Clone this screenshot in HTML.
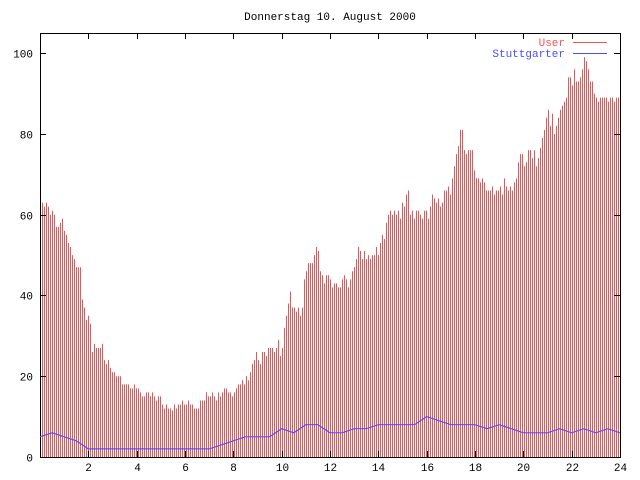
<!DOCTYPE html>
<html><head><meta charset="utf-8"><style>
html,body{margin:0;padding:0;background:#fff;}
svg{display:block;font-family:"Liberation Mono",monospace;font-size:11px;}
</style></head><body>
<svg id="chart" width="640" height="480">
<text x="330" y="20" text-anchor="middle">Donnerstag 10. August 2000</text>
<g id="bars"></g>
<g id="axes"></g>
<g>
<text x="565" y="46" text-anchor="end" fill="#ff4d4d">User</text>
<line x1="573" y1="42.5" x2="607" y2="42.5" stroke="#ff4d4d"/>
<text x="565" y="57" text-anchor="end" fill="#4d4dff">Stuttgarter</text>
<line x1="573" y1="53.5" x2="607" y2="53.5" stroke="#4d4dff"/>
</g>
</svg>
<script>
const userValues = [
64,63,62,63,62,60,61,60,57,57,58,59,56,55,53,52,50,49,47,47,
47,39,37,34,35,33,26,28,27,27,27,28,24,23,24,22,21,21,20,20,
20,18,18,18,18,17,17,18,17,17,16,15,15,16,16,15,16,15,14,15,
15,13,12,13,12,12,11.5,13,12,13,13,14,13,13,14,13,13,12,12,12,
14,14,14,16,15,15,16,15,14,16,15,16,17,17,16,
16,15,16,17,18,18,19,18,20,19,21,23,24,26,24,23,26,26,25,27,
27,27,26,27,29,25,27,32,35,38,41,37,37,36,37,35,37,44,46,48,
48,48,50,52,51,46,45,43,45,45,44,42,43,43,42,42,44,45,44,42,
44,46,47,49,52,51,49,51,49,50,49,50,50,52,50,53,55,54,58,60,
61,60,61,60,61,59,63,62,65,66,60,61,59,61,61,
60,59,61,61,59,62,65,64,63,64,62,63,66,66,67,65,69,72,75,77,
81,81,76,75,76,76,76,71,69,69,68,69,68,66,66,66,67,65,66,66,
67,65,69,67,66,67,66,68,69,73,75,75,72,73,76,76,74,76,72,74,
76.5,79,81,84,86,82,85,80,82,84,86,87,88,89,94,94,92,96,93,93,
94,96,99,98,96,93,93,90,89,88,89,89,89,89,88,89,89,88,89,89];
const stuttHours = [0,0.5,1,1.5,2,2.5,3,3.5,4,4.5,5,5.5,6,6.5,7,7.5,8,8.5,9,9.5,10,10.5,11,11.5,12,12.5,13,13.5,14,14.5,15,15.5,16,16.5,17,17.5,18,18.5,19,19.5,20,20.5,21,21.5,22,22.5,23,23.5,24];
const stuttValues = [5,6,5,4,2,2,2,2,2,2,2,2,2,2,2,3,4,5,5,5,7,6,8,8,6,6,7,7,8,8,8,8,10,9,8,8,8,7,8,7,6,6,6,7,6,7,6,7,6];
const xTicks = [2,4,6,8,10,12,14,16,18,20,22,24];
const yTicks = [0,20,40,60,80,100];

const X0=40,X1=620,Y0=457,Y1=33;
const BAR_STEP_HOURS=24/290;
const xs=h=>X0+(X1-X0)*h/24;
const ys=v=>Y0-(Y0-Y1)*v/105;
const NS="http://www.w3.org/2000/svg";
const svg=document.getElementById('chart');
const bars=document.getElementById('bars');
const axes=document.getElementById('axes');
function mk(t,a){const e=document.createElementNS(NS,t);for(const k in a)e.setAttribute(k,a[k]);return e;}

userValues.forEach((v,i)=>{
  const x=Math.round(xs(i*BAR_STEP_HOURS))+0.5;
  const l=mk('line',{x1:x,x2:x,y1:Y0,y2:ys(v),stroke:'#ff4d4d','stroke-width':1});
  
  
  bars.appendChild(l);
});
const pts=stuttHours.map((h,i)=>xs(h).toFixed(1)+','+ys(stuttValues[i]).toFixed(1)).join(' ');
const pl=mk('polyline',{points:pts,fill:'none',stroke:'#4d4dff','stroke-width':1.2});


svg.appendChild(pl);

const fr=mk('rect',{x:X0+0.5,y:Y1+0.5,width:X1-X0,height:Y0-Y1,fill:'none',stroke:'#000'});


axes.appendChild(fr);
yTicks.forEach(v=>{
  const y=Math.round(ys(v))+0.5;
  axes.appendChild(mk('line',{x1:X0,x2:X0+6,y1:y,y2:y,stroke:'#000'}));
  axes.appendChild(mk('line',{x1:X1-6,x2:X1,y1:y,y2:y,stroke:'#000'}));
  const t=mk('text',{x:33,y:y+4,'text-anchor':'end'});
  t.textContent=v;
  
  
  axes.appendChild(t);
});
xTicks.forEach(h=>{
  const x=Math.round(xs(h))+0.5;
  axes.appendChild(mk('line',{x1:x,x2:x,y1:Y0,y2:Y0-6,stroke:'#000'}));
  axes.appendChild(mk('line',{x1:x,x2:x,y1:Y1,y2:Y1+6,stroke:'#000'}));
  const t=mk('text',{x:x,y:471,'text-anchor':'middle'});
  t.textContent=h;
  
  
  axes.appendChild(t);
});
</script>
</body></html>
